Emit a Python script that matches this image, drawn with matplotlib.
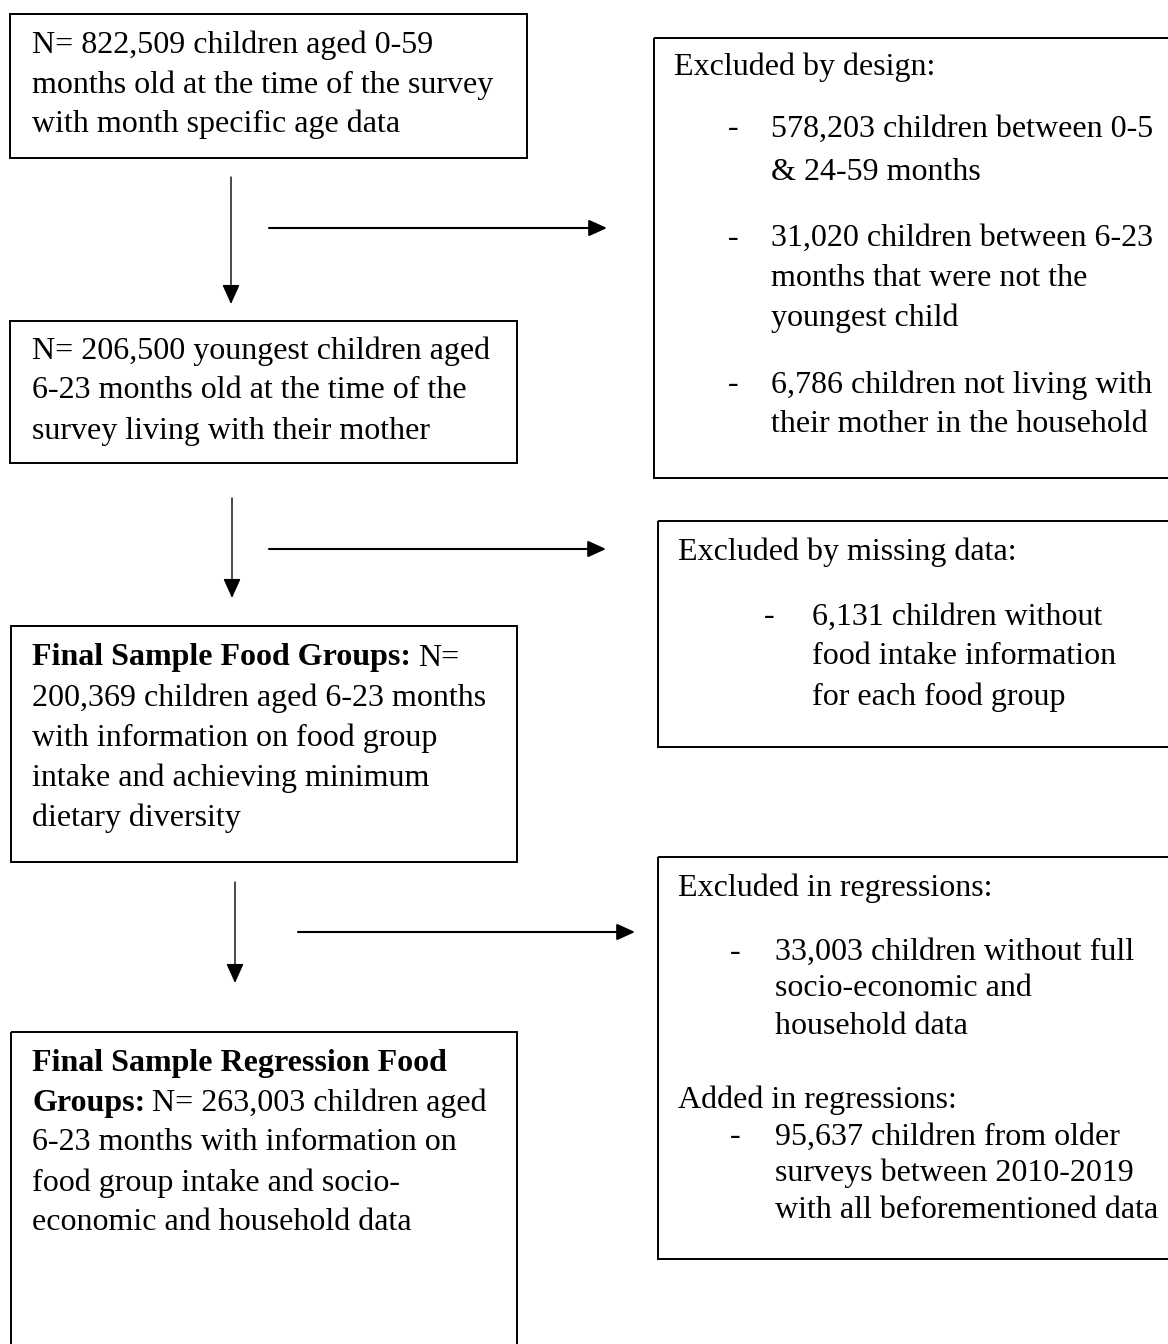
import matplotlib.pyplot as plt
from matplotlib.patches import Rectangle

plt.rcParams['font.family'] = ['Liberation Serif', 'DejaVu Serif']

W, H = 1168, 1344
FS = 23

# ---- text content ----
box1_lines = ["N= 822,509 children aged 0-59",
              "months old at the time of the survey",
              "with month specific age data"]
box2_lines = ["N= 206,500 youngest children aged",
              "6-23 months old at the time of the",
              "survey living with their mother"]
box3_bold = ["Final Sample Food Groups:", "", "", "", ""]
box3_lines = ["N=",
              "200,369 children aged 6-23 months",
              "with information on food group",
              "intake and achieving minimum",
              "dietary diversity"]
box4_bold = ["Final Sample Regression Food", "Groups:", "", "", ""]
box4_lines = ["",
              "N= 263,003 children aged",
              "6-23 months with information on",
              "food group intake and socio-",
              "economic and household data"]

design_head = "Excluded by design:"
design_items = [["578,203 children between 0-5", "& 24-59 months"],
                ["31,020 children between 6-23", "months that were not the", "youngest child"],
                ["6,786 children not living with", "their mother in the household"]]
missing_head = "Excluded by missing data:"
missing_items = [["6,131 children without", "food intake information", "for each food group"]]
regr_head = "Excluded in regressions:"
regr_items = [["33,003 children without full", "socio-economic and", "household data"]]
added_head = "Added in regressions:"
added_items = [["95,637 children from older", "surveys between 2010-2019",
                "with all beforementioned data"]]

# ---- layout (pixels, y downwards) ----
left_boxes = [(10, 14, 527, 158), (10, 321, 517, 463), (11, 626, 517, 862), (11, 1032, 517, 1400)]
right_boxes = [(654, 38, 1200, 478), (658, 521, 1200, 747), (658, 857, 1200, 1259)]
v_arrows = [(231, 177, 304), (232, 498, 598), (235, 882, 983)]
h_arrows = [(228, 269, 607), (549, 269, 606), (932, 298, 635)]

fig = plt.figure(figsize=(W / 100, H / 100), dpi=100)
ax = fig.add_axes([0, 0, 1, 1])
ax.set_xlim(0, W)
ax.set_ylim(H, 0)
ax.axis('off')

for x0, y0, x1, y1 in left_boxes + right_boxes:
    ax.add_patch(Rectangle((x0, y0), x1 - x0, y1 - y0, fill=False, lw=1.4,
                           edgecolor='black', clip_on=True))

for x, ya, yb in v_arrows:
    ax.annotate("", xy=(x, yb), xytext=(x, ya),
                arrowprops=dict(arrowstyle='-|>,head_length=0.6,head_width=0.27',
                                lw=1.0, color='black', shrinkA=0, shrinkB=0,
                                mutation_scale=20))
for y, xa, xb in h_arrows:
    ax.annotate("", xy=(xb, y), xytext=(xa, y),
                arrowprops=dict(arrowstyle='-|>,head_length=0.55,head_width=0.25',
                                lw=1.5, color='black', shrinkA=0, shrinkB=0,
                                mutation_scale=20))

renderer = fig.canvas.get_renderer()


def write(x, y, bold, regular):
    xr = x
    if bold:
        t = ax.text(x, y, bold, fontsize=FS, fontweight='bold', va='center', ha='left')
        xr = x + t.get_window_extent(renderer).width + 7
    if regular:
        ax.text(xr, y, regular, fontsize=FS, va='center', ha='left')


for line, y in zip(box1_lines, [45, 85, 124]):
    write(32, y, "", line)
for line, y in zip(box2_lines, [351, 391, 431]):
    write(32, y, "", line)
for b, r, y in zip(box3_bold, box3_lines, [658, 698, 738, 778, 818]):
    write(32, y, b, r)
for b, r, y in zip(box4_bold, box4_lines, [1063, 1103, 1143, 1183, 1223]):
    write(32, y, b, r)


def bullets(head, hx, hy, items, dash_x, text_x, ys):
    if head:
        write(hx, hy, "", head)
    k = 0
    for item in items:
        for j, line in enumerate(item):
            if j == 0:
                ax.text(dash_x, ys[k], "-", fontsize=FS, va='center', ha='left')
            write(text_x, ys[k], "", line)
            k += 1


bullets(design_head, 674, 67, design_items, 728, 771, [129, 172, 238, 278, 318, 385, 425])
bullets(missing_head, 678, 552, missing_items, 764, 812, [617, 657, 697])
bullets(regr_head, 678, 888, regr_items, 730, 775, [952, 989, 1026])
bullets(added_head, 678, 1100, added_items, 730, 775, [1137, 1173, 1210])

fig.savefig("out.png", dpi=100)
